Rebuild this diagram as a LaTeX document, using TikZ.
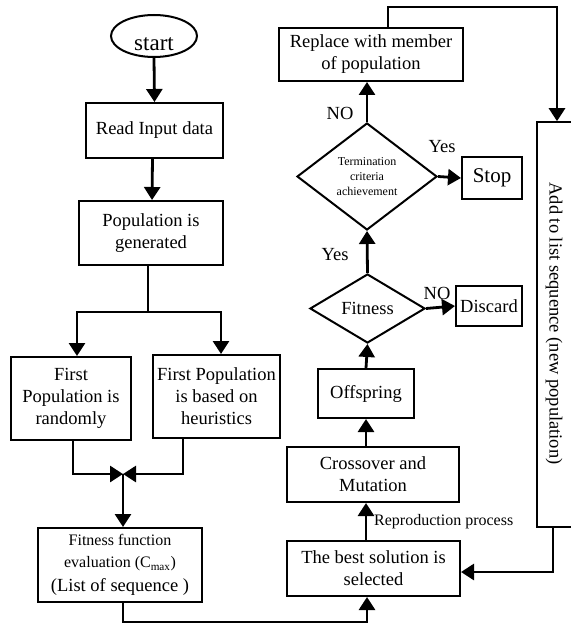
\documentclass[tikz,border=0pt]{standalone}
\usepackage{fontspec}
\setmainfont{Liberation Serif}
\usetikzlibrary{arrows.meta,shapes.geometric}
\begin{document}
\begin{tikzpicture}[x=1pt,y=-1pt,
 box/.style={draw,line width=2pt,rectangle,align=center,inner sep=0pt,font=\fontsize{18.5}{22}\selectfont},
 dia/.style={draw,diamond,line width=2pt,inner sep=0pt,align=center},
 arr/.style={line width=2.8pt,-{Triangle[length=13pt,width=16pt]}},
 ln/.style={line width=2.8pt},
 lab/.style={font=\fontsize{18.5}{22}\selectfont,inner sep=0pt}]
\useasboundingbox (0,0) rectangle (570,628);

% nodes
\node[draw,ellipse,line width=2pt,minimum width=86pt,minimum height=42pt,inner sep=0pt,font=\fontsize{23}{26}\selectfont] (start) at (154,36) {\raisebox{-15pt}[0pt][0pt]{start}};
\node[box,minimum width=137pt,minimum height=55pt] (read) at (154.5,130.5) {Read Input data};
\node[box,minimum width=144pt,minimum height=64pt] (pop) at (151,233) {Population is\\generated};
\node[box,minimum width=120pt,minimum height=83pt] (rand) at (71,398.5) {First\\Population is\\randomly};
\node[box,minimum width=127pt,minimum height=83pt] (heur) at (216.5,396.5) {First Population\\is based on\\heuristics};
\node[box,minimum width=164pt,minimum height=74pt] (fit) at (120,565) {\fontsize{16}{19}\selectfont Fitness function\\\fontsize{16}{19}\selectfont evaluation (C\textsubscript{max})\\[2pt]\fontsize{18.5}{22}\selectfont (List of sequence )};
\node[box,minimum width=173pt,minimum height=55pt] (best) at (373.5,568.5) {The best solution is\\selected};
\node[box,minimum width=172pt,minimum height=55pt] (cross) at (373,474.5) {Crossover and\\Mutation};
\node[box,minimum width=96pt,minimum height=49pt] (off) at (366,393.5) {Offspring};
\node[dia,minimum width=115pt,minimum height=69pt,font=\fontsize{18.5}{22}\selectfont] (fitd) at (367.5,308.5) {Fitness};
\node[dia,minimum width=140pt,minimum height=107pt,font=\fontsize{12}{15}\selectfont] (term) at (367,176.5) {Termination\\criteria\\achievement};
\node[box,minimum width=60pt,minimum height=42pt,font=\fontsize{21}{24}\selectfont] (stop) at (492,178) {Stop};
\node[box,minimum width=66pt,minimum height=40pt] (disc) at (489,306) {Discard};
\node[box,minimum width=184pt,minimum height=53pt] (repl) at (371,54.5) {Replace with member\\of population};
\node[draw,line width=1.6pt,minimum width=43pt,minimum height=405pt,inner sep=0pt] (add) at (558.5,324.5) {};
\node[lab,rotate=-90] (addt) at (554,323.5) {Add to list sequence (new population)};

% labels
\node[lab] (no1) at (340,113) {NO};
\node[lab] (yes1) at (442,147) {Yes};
\node[lab] (yes2) at (335,255) {Yes};
\node[lab] (no2) at (437,293) {NO};
\node[lab,anchor=west,font=\fontsize{16}{18}\selectfont] (rep) at (374,522) {Reproduction process};

% helper coordinates
\coordinate (split) at (148,312);
\coordinate (join) at (123,474);
\coordinate (bot) at (123,622);
\coordinate (topc) at (557,7);

% connectors
\draw[arr] (start.south) -- (read.north);
\draw[arr] ([xshift=-2pt]read.south) -- ([xshift=1pt]pop.north);
\draw[ln] ([xshift=-3pt]pop.south) -- (split);
\draw[arr] (split) -| ([xshift=6pt]rand.north);
\draw[arr] (split) -| ([xshift=4.5pt]heur.north);
\draw[arr] ([xshift=2pt]rand.south) |- (join);
\draw[arr] ([xshift=-33.5pt]heur.south) |- (join);
\draw[arr] (join) -- (join |- fit.north);
\draw[arr] (fit.south -| join) -- (bot) -| ([xshift=-6.5pt]best.south);
\draw[arr] (off.south |- best.north) -- (off.south |- cross.south);
\draw[arr] (off.south |- cross.north) -- (off.south);
\draw[arr] (off.north) -- (fitd.south);
\draw[arr] (fitd.north) -- (term.south);
\draw[arr] (fitd.east) -- (disc.west);
\draw[arr] (term.east) -- (stop.west);
\draw[arr] (term.north) -- (repl.south -| term.north);
\draw[arr] ([xshift=17pt]repl.north) |- (topc) -- (topc |- add.north);
\draw[arr] ([xshift=-5.5pt]add.south) |- ([yshift=-3.5pt]best.east);
\end{tikzpicture}
\end{document}
